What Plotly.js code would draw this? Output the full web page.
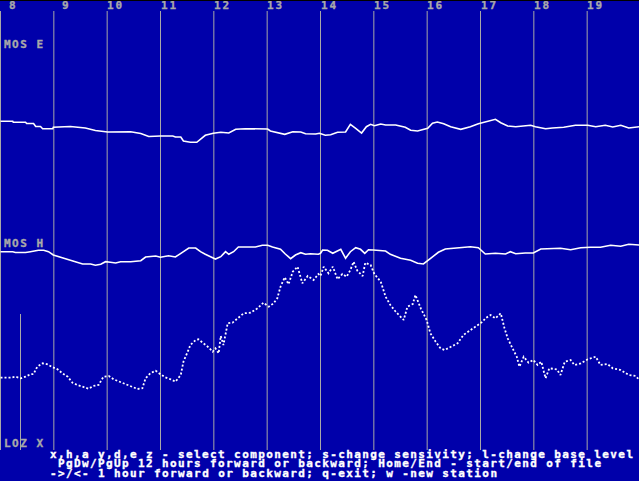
<!DOCTYPE html>
<html>
<head>
<meta charset="utf-8">
<script src="https://cdn.plot.ly/plotly-3.0.1.min.js"></script>
<style>
  html, body { margin: 0; padding: 0; background: #000000; overflow: hidden; }
  #chart { position: absolute; left: 0; top: 1px; width: 639px; height: 480px; }
</style>
</head>
<body>
<div id="chart"></div>
<script>
// ---- data (time in decimal hours, level in screen rows of the magnetogram) ----
const hourTicks = [8, 9, 10, 11, 12, 13, 14, 15, 16, 17, 18, 19];
const seriesNames = ["MOS E", "MOS H", "LOZ X"];
const markerHour = 8.375;

const timeMosE = [8.00,8.23,8.24,8.47,8.49,8.62,8.66,8.75,8.79,8.98,
  8.99,9.13,9.31,9.59,9.78,10.01,10.25,10.44,10.63,10.78,
  11.00,11.23,11.28,11.38,11.43,11.56,11.68,11.75,11.84,11.99,
  12.13,12.28,12.41,12.59,12.80,13.01,13.06,13.33,13.48,13.63,
  13.72,13.91,13.98,14.09,14.19,14.32,14.47,14.56,14.66,14.77,
  14.86,14.94,15.01,15.13,15.22,15.41,15.59,15.69,15.82,16.01,
  16.10,16.19,16.31,16.44,16.63,16.81,16.96,17.06,17.19,17.28,
  17.38,17.51,17.66,17.79,17.94,18.03,18.22,18.35,18.56,18.78,
  19.01,19.16,19.34,19.48,19.63,19.78,19.98];
const valMosE = [121.3,121.3,122.3,122.3,123.5,123.5,126.5,126.5,128.7,128.7,
  127.3,127,126.5,128,130.5,132,131.7,131.7,133.5,136.5,
  136,136,137,137,141,142.3,142.3,139.3,135.3,133.3,
  132.3,133,129.3,128.7,129,129,131,134.3,131.7,132,
  133.7,134,133.3,135.3,134.7,132.3,132,124.3,128.3,133,
  126.7,124.3,125.7,124,125,125,127.3,130.3,131,128.3,
  123.3,122,123.7,126.7,129.3,126.7,123.7,122.3,120.7,119.3,
  122.7,126,126.7,125.7,125.3,126.7,128.7,128,127.3,125.3,
  125.3,126.7,125.3,127,125.3,128,126.7];

const timeMosH = [8.00,8.23,8.28,8.47,8.56,8.71,8.81,8.90,8.99,9.13,
  9.26,9.41,9.54,9.69,9.78,9.88,9.97,10.06,10.16,10.25,
  10.44,10.63,10.72,10.91,11.00,11.15,11.28,11.41,11.53,11.66,
  11.75,11.84,11.94,12.03,12.13,12.22,12.28,12.37,12.46,12.59,
  12.78,12.91,13.01,13.10,13.25,13.34,13.44,13.53,13.63,13.72,
  13.81,13.96,14.00,14.04,14.13,14.23,14.32,14.38,14.47,14.56,
  14.66,14.75,14.83,14.90,14.99,15.09,15.22,15.31,15.41,15.50,
  15.69,15.82,15.93,16.01,16.12,16.21,16.34,16.48,16.63,16.81,
  16.96,17.04,17.09,17.28,17.47,17.56,17.66,17.84,17.99,18.13,
  18.31,18.50,18.69,18.88,19.06,19.25,19.44,19.63,19.78,19.98];
const valMosH = [251.7,251.7,252.5,252.5,251.7,250.3,250.3,251.7,255,257.3,
  259.3,261.7,264,264,265.3,264.3,261.7,262.3,263,261.7,
  261.7,260.7,257,256,257.3,255.7,257,252.3,248,248,
  251.7,254.3,256.7,259,256.7,251.7,254.3,251.7,247,247.3,
  247,245.3,245.3,247,249.3,254,258.7,255,252.7,254.3,
  253.7,254.3,253.3,250,250.3,253.3,251,249.3,258.3,251.7,
  247.7,249.3,253.3,249.7,250,250.3,251,254.3,256.7,258.3,
  260.3,263.3,264,260.7,256.7,252.3,249,248.3,248.3,246.7,
  247.7,251.7,254,253.3,254,251.7,253.7,253,253,249,
  248.3,248.3,249.7,247.7,247.3,247.3,245.3,246.3,244.3,245];

const timeLozX = [8.00,8.19,8.28,8.38,8.47,8.56,8.62,8.69,8.79,8.88,
  8.98,9.07,9.16,9.26,9.35,9.44,9.54,9.65,9.74,9.84,
  9.93,10.03,10.12,10.25,10.34,10.44,10.57,10.66,10.72,10.81,
  10.91,11.00,11.09,11.19,11.28,11.38,11.43,11.51,11.56,11.66,
  11.71,11.79,11.90,11.98,12.03,12.09,12.13,12.18,12.26,12.35,
  12.44,12.56,12.69,12.82,12.93,13.03,13.12,13.19,13.25,13.33,
  13.40,13.48,13.57,13.66,13.76,13.87,13.96,14.00,14.06,14.15,
  14.23,14.32,14.41,14.49,14.56,14.62,14.69,14.79,14.84,14.94,
  15.01,15.13,15.22,15.31,15.41,15.50,15.56,15.63,15.73,15.78,
  15.88,15.99,16.06,16.16,16.25,16.33,16.44,16.57,16.68,16.81,
  16.96,17.04,17.09,17.19,17.28,17.38,17.45,17.51,17.60,17.68,
  17.73,17.81,17.90,17.99,18.07,18.14,18.22,18.29,18.43,18.50,
  18.58,18.69,18.76,18.88,19.01,19.16,19.25,19.38,19.48,19.63,
  19.78,19.91,19.98];
const valLozX = [377.7,377.7,376.7,378.3,376.7,374.3,374,366.7,363.3,364.3,
  367.3,369.3,373.3,376.7,382.7,385,386.7,388.7,386,385,
  376.7,376,379.3,382.3,384,386.7,389,388.3,378.3,373.3,
  370.7,374.3,377.3,379.3,381.7,375,361.7,351.7,345,340,
  339.3,342.7,347.3,351.7,348.3,353.3,336,345,323.3,322.7,
  318.3,313.3,312.7,308.3,302.7,306.7,303.3,298.3,286.7,277.3,
  284.3,271.7,266.7,283.3,276,280,274,276,266.7,273.3,
  266.7,279.3,274,276.7,270,261.7,270.7,276,262.7,265,
  274,281.7,296.7,305,311.7,316.7,320,306.7,304,295,
  308.3,320,333.3,341.7,348.3,350,346.7,343.3,335,330,
  325,321.7,318.3,315,318.3,313.3,328.3,338.3,348.3,356.7,
  366.7,356.7,362.7,360,365,361.7,378.3,368.3,369.3,375,
  361.7,360,365,363.3,359.3,356.7,365,364,368.3,370,
  375,376,380];

const helpLines = [
  "x,h,a y,d,e z - select component; s-change sensivity; l-change base level",
  "PgDw/PgUp 12 hours forward or backward; Home/End - start/end of file",
  "->/<- 1 hour forward or backward; q-exit; w -new station"
];

// ---- styling ----
const BLUE = "#0000AA", GRAY = "#A8A8A8", WHITE = "#FFFFFF";
const FONT = "DejaVu Sans Mono, Liberation Mono, monospace";
const PX_PER_HOUR = 640 / 12;
const x0 = 8 - 0.5 / PX_PER_HOUR;
const xRange = [x0, x0 + 639 / PX_PER_HOUR];

const traces = [
  { x: timeMosE, y: valMosE, name: seriesNames[0], mode: "lines",
    line: { color: WHITE, width: 1.6 }, hoverinfo: "skip" },
  { x: timeMosH, y: valMosH, name: seriesNames[1], mode: "lines",
    line: { color: WHITE, width: 1.6 }, hoverinfo: "skip" },
  { x: timeLozX, y: valLozX, name: seriesNames[2], mode: "lines",
    line: { color: WHITE, width: 1.8, dash: "2px,2px" }, hoverinfo: "skip" }
];

const shapes = hourTicks.map(h => ({
  type: "line", xref: "x", yref: "y", x0: h, x1: h, y0: 11, y1: 450,
  line: { color: GRAY, width: 1 }, layer: "below"
}));
shapes.push({ type: "line", xref: "x", yref: "y", x0: markerHour, x1: markerHour,
  y0: 314, y1: 450, line: { color: GRAY, width: 1 }, layer: "below" });

const baseAnn = { showarrow: false, borderpad: 0, borderwidth: 0, align: "left",
  font: { family: FONT, size: 11, weight: "bold", color: GRAY } };

const annotations = [];
hourTicks.forEach(h => {
  const t = String(h);
  annotations.push(Object.assign({}, baseAnn, {
    xref: "x", yref: "y", x: h, y: 5.5, text: t,
    xanchor: "left", yanchor: "middle", xshift: (2 - t.length) * 8
  }));
});
const labelRows = [44.5, 243, 443.5];
seriesNames.forEach((s, i) => {
  annotations.push(Object.assign({}, baseAnn, {
    xref: "x", yref: "y", x: 8, y: labelRows[i], text: s,
    xanchor: "left", yanchor: "middle", xshift: 3.5
  }));
});
const helpX = [50, 58, 50];
const helpRows = [454.5, 463.5, 473.5];
helpLines.forEach((s, i) => {
  annotations.push(Object.assign({}, baseAnn, {
    xref: "paper", yref: "y", x: helpX[i] / 639, y: helpRows[i], text: s,
    xanchor: "left", yanchor: "middle",
    font: { family: FONT, size: 11, weight: "bold", color: WHITE }
  }));
});

const layout = {
  width: 639, height: 480,
  margin: { l: 0, r: 0, t: 0, b: 0, pad: 0 },
  paper_bgcolor: BLUE, plot_bgcolor: BLUE,
  showlegend: false,
  xaxis: { range: xRange, visible: false, showgrid: false, zeroline: false, fixedrange: true },
  yaxis: { range: [481, 1], visible: false, showgrid: false, zeroline: false, fixedrange: true },
  shapes: shapes,
  annotations: annotations
};

Plotly.newPlot("chart", traces, layout, { staticPlot: true, displayModeBar: false }).then(() => {
  // stretch monospace text to the 8-px character cell of the original screen font
  document.querySelectorAll("#chart .annotation-text").forEach(t => {
    const s = t.textContent;
    t.style.textAnchor = "start";
    t.style.strokeWidth = "0.35px";
    t.style.stroke = t.style.fill;
    if (s.length > 1) {
      t.setAttribute("textLength", String(s.length * 8 - 1));
      t.setAttribute("lengthAdjust", "spacing");
    }
  });
});
</script>
</body>
</html>
